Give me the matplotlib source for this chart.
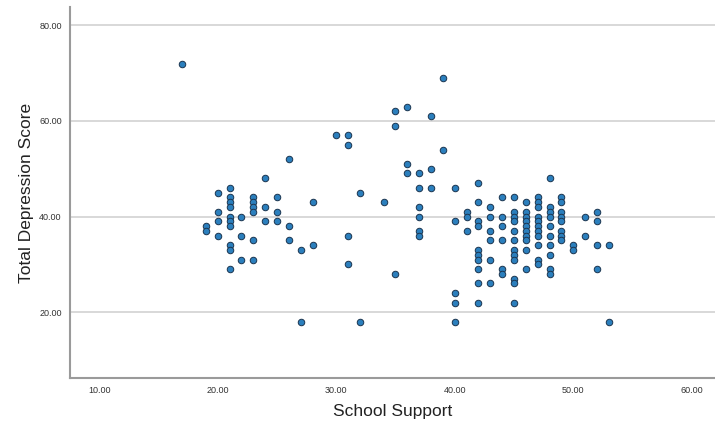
import numpy as np
from matplotlib import pyplot as plt

plt.rcParams['font.family'] = ['Liberation Sans', 'DejaVu Sans']

# School Support value -> list of Total Depression Scores at that value
support_cols = [17, 19, 20, 21, 22, 23, 24, 25, 26, 27, 28, 30, 31, 32, 34, 35, 36, 37, 38, 39,
                40, 41, 42, 43, 44, 45, 46, 47, 48, 49, 50, 51, 52, 53]
depression_cols = [
    [72],
    [38, 37],
    [45, 41, 39, 36],
    [46, 44, 43, 42, 40, 39, 38, 34, 33, 29],
    [40, 36, 31],
    [44, 43, 42, 41, 35, 31],
    [48, 42, 39],
    [44, 41, 39],
    [52, 38, 35],
    [33, 18],
    [43, 34],
    [57],
    [57, 55, 36, 30],
    [45, 18],
    [43],
    [62, 59, 28],
    [63, 51, 49],
    [49, 46, 42, 40, 37, 36],
    [61, 50, 46],
    [69, 54],
    [46, 39, 24, 22, 18],
    [41, 40, 37],
    [47, 43, 39, 38, 33, 32, 31, 29, 26, 22],
    [42, 40, 37, 35, 31, 26],
    [44, 40, 38, 35, 29, 28],
    [44, 41, 40, 39, 37, 35, 33, 32, 31, 27, 26, 22],
    [43, 41, 40, 39, 38, 37, 36, 35, 33, 29],
    [44, 43, 42, 40, 39, 38, 37, 36, 34, 31, 30],
    [48, 42, 41, 40, 38, 36, 34, 32, 29, 28],
    [44, 43, 41, 40, 39, 37, 36, 35],
    [34, 33],
    [40, 36],
    [41, 39, 34, 29],
    [34, 18],
]
x_ticks = [10, 20, 30, 40, 50, 60]
y_ticks = [20, 40, 60, 80]

x = []
y = []
for s, ds in zip(support_cols, depression_cols):
    for d in ds:
        x.append(s)
        y.append(d)
x = np.array(x)
y = np.array(y)

fig = plt.figure(figsize=(7.15, 4.21), dpi=100)
ax = fig.add_axes([0.098, 0.102, 0.902, 0.881])

for t in y_ticks:
    ax.axhline(t, color='#d6d6d6', lw=1.3, zorder=1)

ax.scatter(x, y, s=22, facecolor='#2b7fbd', edgecolor='#1b3550', linewidth=0.7, zorder=3)

ax.set_xlim(7.55, 61.95)
ax.set_ylim(6.2, 83.8)
ax.set_xticks(x_ticks)
ax.set_xticklabels(['%.2f' % v for v in x_ticks])
ax.set_yticks(y_ticks)
ax.set_yticklabels(['%.2f' % v for v in y_ticks])
ax.tick_params(length=0, labelsize=6.5, colors='#333333', pad=6)

for side in ['top', 'right']:
    ax.spines[side].set_visible(False)
for side in ['left', 'bottom']:
    ax.spines[side].set_color('#9a9a9a')
    ax.spines[side].set_linewidth(1.5)

ax.set_xlabel('School Support', fontsize=12.5, labelpad=6, color='#222222')
ax.set_ylabel('Total Depression Score', fontsize=12.5, labelpad=4, color='#222222')

fig.savefig('out.png', dpi=100, facecolor='white')
